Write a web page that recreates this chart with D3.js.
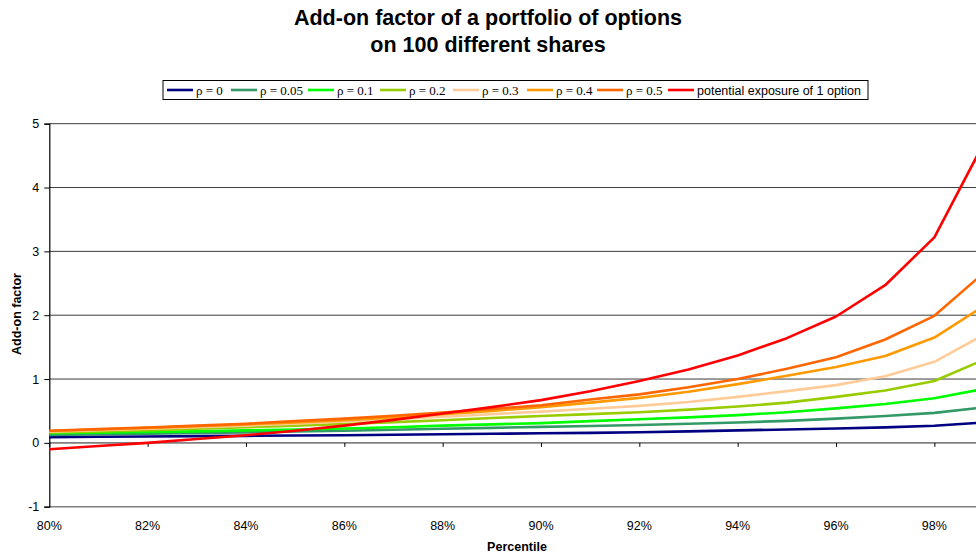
<!DOCTYPE html>
<html>
<head>
<meta charset="utf-8">
<script src="https://cdn.jsdelivr.net/npm/d3@7"></script>
<style>
  html, body { margin: 0; padding: 0; background: #fff; }
  svg { display: block; }
</style>
</head>
<body>
<svg id="chart" width="976" height="556"></svg>
<script>
// ---- data ----
const percentiles = [80,81,82,83,84,85,86,87,88,89,90,91,92,93,94,95,96,97,98,99];
const xTicks = [80,82,84,86,88,90,92,94,96,98,100];
const xTickLabels = ["80%","82%","84%","86%","88%","90%","92%","94%","96%","98%"];
const yTicks = [-1,0,1,2,3,4,5];
const seriesNames = ["ρ = 0","ρ = 0.05","ρ = 0.1","ρ = 0.2","ρ = 0.3","ρ = 0.4","ρ = 0.5","potential exposure of 1 option"];
const seriesColors = ["#000080","#339966","#00FF00","#99CC00","#FFCC99","#FF9900","#FF6600","#FF0000"];
const rho0   = [0.090,0.095,0.100,0.105,0.110,0.115,0.120,0.128,0.135,0.142,0.150,0.157,0.167,0.180,0.195,0.210,0.225,0.242,0.267,0.320];
const rho005 = [0.125,0.135,0.145,0.155,0.165,0.178,0.190,0.205,0.220,0.235,0.250,0.265,0.280,0.300,0.320,0.345,0.380,0.420,0.470,0.555];
const rho01  = [0.150,0.160,0.170,0.180,0.195,0.210,0.225,0.245,0.270,0.290,0.310,0.340,0.370,0.400,0.435,0.480,0.540,0.610,0.700,0.845];
const rho02  = [0.165,0.180,0.200,0.220,0.245,0.270,0.295,0.325,0.355,0.390,0.420,0.450,0.480,0.520,0.570,0.630,0.720,0.820,0.970,1.300];
const rho03  = [0.175,0.200,0.220,0.245,0.270,0.300,0.335,0.370,0.410,0.450,0.490,0.535,0.580,0.640,0.720,0.810,0.905,1.045,1.270,1.690];
const rho04  = [0.185,0.210,0.235,0.260,0.290,0.320,0.355,0.400,0.450,0.500,0.560,0.630,0.705,0.800,0.920,1.050,1.190,1.360,1.650,2.140];
const rho05  = [0.190,0.215,0.240,0.270,0.300,0.340,0.380,0.425,0.475,0.530,0.590,0.680,0.760,0.870,1.000,1.160,1.340,1.620,1.990,2.660];
const single = [-0.10,-0.05,0.00,0.06,0.12,0.19,0.27,0.36,0.46,0.56,0.67,0.81,0.97,1.15,1.37,1.64,1.98,2.47,3.22,4.69];
const seriesValues = [rho0, rho005, rho01, rho02, rho03, rho04, rho05, single];

// ---- layout ----
const SANS = "Liberation Sans, Arial, sans-serif";
const svg = d3.select("#chart");
const x = d3.scaleLinear().domain([80, 100]).range([49.3, 1032.7]);
const y = d3.scaleLinear().domain([-1, 5]).range([506.7, 123.7]);

// title
const title = svg.append("text")
  .attr("text-anchor", "middle")
  .attr("font-family", SANS)
  .attr("font-weight", "bold")
  .attr("font-size", 21.5)
  .attr("fill", "#000");
title.append("tspan").attr("x", 488).attr("y", 25).text("Add-on factor of a portfolio of options");
title.append("tspan").attr("x", 488).attr("y", 52).text("on 100 different shares");

// gridlines
svg.append("g").selectAll("line").data(yTicks).join("line")
  .attr("x1", x(80)).attr("x2", x(100))
  .attr("y1", d => y(d)).attr("y2", d => y(d))
  .attr("stroke", d => (d === 0 || d === -1) ? "#808080" : "#3a3a3a")
  .attr("stroke-width", d => (d === 0 || d === -1) ? 1.6 : 1);

// y axis
const yAxis = d3.axisLeft(y).tickValues(yTicks).tickSize(5).tickPadding(5).tickFormat(d => String(d));
const gy = svg.append("g").attr("transform", `translate(${x(80)},0)`).call(yAxis);
gy.select(".domain").attr("stroke", "#000").attr("stroke-width", 1.2);
gy.selectAll(".tick line").attr("stroke", "#000");
gy.selectAll(".tick text")
  .attr("font-family", SANS)
  .attr("font-size", 12.5).attr("fill", "#000");

// x axis ticks on zero line
const xAxis = d3.axisBottom(x).tickValues(xTicks).tickSize(4).tickFormat(() => "");
const gx = svg.append("g").attr("transform", `translate(0,${y(0)})`).call(xAxis);
gx.select(".domain").remove();
gx.selectAll(".tick line").attr("stroke", "#000");

// x tick labels at bottom
svg.append("g").selectAll("text").data(xTickLabels).join("text")
  .attr("x", (d, i) => x(xTicks[i])).attr("y", 529.5)
  .attr("text-anchor", "middle")
  .attr("font-family", SANS)
  .attr("font-size", 12.5).attr("fill", "#000")
  .text(d => d);

// axis titles
svg.append("text")
  .attr("x", 517).attr("y", 551)
  .attr("text-anchor", "middle")
  .attr("font-family", SANS)
  .attr("font-weight", "bold").attr("font-size", 12.5)
  .text("Percentile");
svg.append("text")
  .attr("transform", "translate(20.5,314) rotate(-90)")
  .attr("text-anchor", "middle")
  .attr("font-family", SANS)
  .attr("font-weight", "bold").attr("font-size", 12.5)
  .text("Add-on factor");

// lines
const line = d3.line().x((d, i) => x(percentiles[i])).y(d => y(d));
svg.append("g").selectAll("path").data(seriesValues).join("path")
  .attr("d", d => line(d))
  .attr("fill", "none")
  .attr("stroke", (d, i) => seriesColors[i])
  .attr("stroke-width", 2.6)
  .attr("stroke-linejoin", "round");

// legend
const legendX = [167, 231, 308, 380, 453, 527, 597, 668];
const lg = svg.append("g");
lg.append("rect").attr("x", 163).attr("y", 80.5).attr("width", 705).attr("height", 19)
  .attr("fill", "#fff").attr("stroke", "#000").attr("stroke-width", 1);
const items = lg.selectAll("g").data(seriesNames).join("g")
  .attr("transform", (d, i) => `translate(${legendX[i]},90)`);
items.append("line").attr("x1", 0).attr("x2", 26).attr("y1", 0).attr("y2", 0)
  .attr("stroke", (d, i) => seriesColors[i]).attr("stroke-width", 2.6);
items.append("text").attr("x", 29).attr("y", 4.5)
  .attr("font-family", (d, i) => i < 7 ? "Liberation Serif, Times New Roman, serif" : SANS)
  .attr("font-size", (d, i) => i < 7 ? 13 : 12.5)
  .attr("fill", "#000")
  .text(d => d);
</script>
</body>
</html>
